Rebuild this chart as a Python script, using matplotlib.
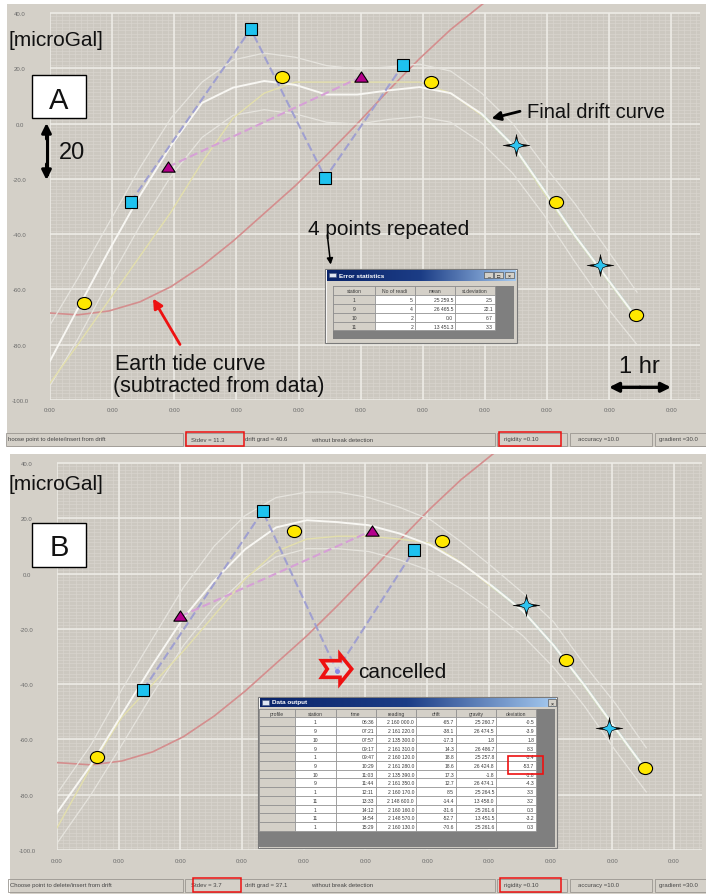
import numpy as np
import matplotlib
matplotlib.use("Agg")
import matplotlib.pyplot as plt
from matplotlib.path import Path
from matplotlib.patches import Rectangle, Polygon
from matplotlib.colors import LinearSegmentedColormap
from matplotlib.transforms import Affine2D

plt.rcParams['font.family'] = ['Liberation Sans', 'DejaVu Sans']

W, H = 706, 895

# ---------------------------------------------------------------- data
read_times = [6.6, 7.35, 7.95, 9.2833, 9.7833, 10.4833, 11.05, 11.7333,
              12.1833, 13.55, 14.2, 14.9, 15.4833]
read_clock = ["06:36", "07:21", "07:57", "09:17", "09:47", "10:29", "11:03",
              "11:44", "12:11", "13:33", "14:12", "14:54", "15:29"]
stations = [1, 9, 10, 9, 1, 9, 10, 9, 1, 11, 1, 11, 1]
readings = ["2 160 000.0", "2 161 220.0", "2 135 300.0", "2 161 310.0",
            "2 160 120.0", "2 161 280.0", "2 135 390.0", "2 161 350.0",
            "2 160 170.0", "2 148 600.0", "2 160 160.0", "2 148 570.0",
            "2 160 130.0"]

# solution A: every reading used
obs_a = [-64.9, -28.4, -15.7, 34.2, 16.8, -19.7, 16.8, 21.2, 15.0, -7.8,
         -28.4, -51.1, -69.3]

# solution B: the 10:29 reading at station 9 is cancelled
drift_b = [-65.7, -38.1, -17.3, 14.3, 18.8, 18.6, 17.3, 12.7, 8.5, -14.4,
           -31.6, -52.7, -70.6]
deviation_b = [-0.5, -3.9, 1.8, 8.3, -3.4, -53.7, -1.8, -4.3, 3.3, 3.2,
               0.3, -3.2, 0.3]
gravity_b = ["25 260.7", "26 474.5", "1.8", "26 486.7", "25 257.8",
             "26 424.8", "-1.8", "26 474.1", "25 264.5", "13 458.0",
             "25 261.6", "13 451.5", "25 261.6"]
cancelled_b = [False, False, False, False, False, True, False, False,
               False, False, False, False, False]
obs_b = [d + e for d, e in zip(drift_b, deviation_b)]

# drift curves and their bands, sampled every half hour
curve_t_a = [6.05, 6.5, 7.0, 7.5, 8.0, 8.5, 9.0, 9.5, 10.0, 10.5, 11.0,
             11.5, 12.0, 12.5, 13.0, 13.5, 14.0, 14.5, 15.0, 15.5]
drift_curve_a = [-86, -67, -46, -26, -8, 7.5, 13, 15.4, 14, 10.5, 10.5, 12,
                 13.2, 11, 3.5, -7.8, -24, -40.5, -55.5, -70.5]
upper_a = [-73, -56, -36, -16, 2, 15, 23, 25.5, 24, 21, 19.7, 20.5, 21.5,
           19, 11, 0, -15, -29, -45, -61]
lower_a = [-95, -78, -57, -37, -19, -5, 3, 5, 3.5, 0.5, -0.2, 1.5, 2.5,
           0.5, -7, -18, -33, -50, -66, -80]
station1_a = [-94, -80, -64, -48, -32, -14, 2, 11, 15, 15, 15, 15, 15, 11,
              3, -8, -25, -41, -56, -71]

curve_t_b = [5.95, 6.5, 7.0, 7.5, 8.0, 8.5, 9.0, 9.5, 10.0, 10.5, 11.0,
             11.5, 12.0, 12.5, 13.0, 13.5, 14.0, 14.5, 15.0, 15.5]
drift_curve_b = [-86.5, -69.2, -51.0, -33.0, -16.0, -2.5, 8.8, 16.7, 19.3,
                 18.6, 17.5, 14.5, 10.3, 3.8, -4.5, -13.5, -26, -40.5, -56,
                 -71.2]
upper_b = [-79.6, -62, -42, -23.5, -5, 10, 21, 27.5, 29.5, 29.5, 27.5, 24,
           19.5, 11.5, 2.5, -7, -17.5, -33, -47, -63]
lower_b = [-97.6, -80, -62, -43.5, -26, -12, -1.5, 6, 9, 9, 8, 5, 1, -5.5,
           -13.5, -22.5, -34, -48, -64, -79]
station1_b = [-92, -70, -52, -40, -28, -15, -2, 8, 12.5, 13.5, 13.5, 12.5,
              11, 4, -5, -13.5, -26, -41, -56.5, -71.5]

# earth tide correction
tide_t = [5.9, 6.5, 7.0, 7.5, 8.0, 8.5, 9.0, 9.5, 10.0, 10.5, 11.0, 11.5,
          12.0, 12.5, 13.0, 13.5]
tide_val = [-68.3, -69.2, -67.8, -64.5, -59, -51.5, -42.5, -32.5, -22.5,
            -11.5, 0, 12, 23.5, 34, 43, 51]

# error statistics of solution A
err_station = [1, 9, 10, 11]
err_count = [5, 4, 2, 2]
err_mean = ["25 259.5", "26 465.5", "0.0", "13 451.3"]
err_sd = [2.5, 22.1, 6.7, 3.3]

ytick_vals = [-100, -80, -60, -40, -20, 0, 20, 40]

status_a = {"stdev": "Stdev = 11.3", "grad": "drift grad = 40.6"}
status_b = {"stdev": "Stdev = 3.7", "grad": "drift grad = 37.1"}

# ---------------------------------------------------------------- style
SHOT_BG = '#d4d0c8'
PLOT_BG = '#ccc8c0'
MINOR = '#d9d6cf'
MAJOR = '#efede8'
TIDE_C = '#d48e8e'
DRIFT_C = '#f8f7f3'
BAND_C = '#e6e4de'
YEL_C = '#e3dfac'
ST9_C = '#a0a0d0'
ST10_C = '#d6a0d6'
CYAN_C = '#aee3df'
Y_TOP = 40 + 9 / 2.764


def frac(x0, y0, x1, y1):
    return [x0 / W, 1 - y1 / H, (x1 - x0) / W, (y1 - y0) / H]


def star_path(rx, ry, r_in):
    verts = [(rx, 0), (r_in, r_in), (0, ry), (-r_in, r_in), (-rx, 0),
             (-r_in, -r_in), (0, -ry), (r_in, -r_in), (rx, 0)]
    codes = [Path.MOVETO] + [Path.LINETO] * 7 + [Path.CLOSEPOLY]
    return Path(verts, codes)


STAR_OUT = star_path(1.0, 0.82, 0.14)
STAR_IN = star_path(1.0, 0.95, 0.3)
ELLIPSE = Path.unit_circle().transformed(Affine2D().scale(1.0, 0.85))
TRIANGLE = Path([(-0.6, -0.42), (0.6, -0.42), (0, 0.5), (-0.6, -0.42)],
                [Path.MOVETO, Path.LINETO, Path.LINETO, Path.CLOSEPOLY])

fig = plt.figure(figsize=(W / 100, H / 100), dpi=100, facecolor='white')

bg = fig.add_axes([0, 0, 1, 1], zorder=0)
bg.set_xlim(0, W)
bg.set_ylim(H, 0)
bg.axis('off')
bg.add_patch(Rectangle((7, 5), W - 7, 443, fc=SHOT_BG, ec='none'))
bg.add_patch(Rectangle((10, 455), W - 10, H - 455, fc=SHOT_BG, ec='none'))


def chart_axes(px, t0, t1, xpad):
    ax = fig.add_axes(frac(*px), zorder=2)
    ax.set_xlim(t0, t1)
    ax.set_ylim(-100, Y_TOP)
    ax.patch.set_visible(False)
    for s in ax.spines.values():
        s.set_visible(False)
    ax.axhspan(-100, 40, fc=PLOT_BG, ec='none', zorder=0)
    ax.hlines(np.arange(-100, 40.001, 1.25), t0, t1, colors=MINOR,
              lw=0.45, zorder=0.5)
    ax.vlines(t0 + np.arange(0.1, t1 - t0, 0.1), -100, 40, colors=MINOR,
              lw=0.45, zorder=0.5)
    hours = t0 + np.arange(0, 11)
    ax.hlines(ytick_vals, t0, t1, colors=MAJOR, lw=1.1, zorder=0.6)
    ax.vlines(hours, -100, 40, colors=MAJOR, lw=1.1, zorder=0.6)
    ax.set_xticks(hours)
    ax.set_xticklabels(["0:00"] * len(hours))
    ax.set_yticks(ytick_vals)
    ax.set_yticklabels([f"{v:.1f}" for v in ytick_vals])
    ax.tick_params(axis='x', length=0, labelsize=4.3, labelcolor='#6a6a6a',
                   pad=xpad)
    ax.tick_params(axis='y', length=0, labelsize=4.3, labelcolor='#6a6a6a',
                   pad=21.6)
    for lbl in ax.get_yticklabels():
        lbl.set_horizontalalignment('center')
    return ax


def draw_solution(ax, curve_t, drift_v, upper_v, lower_v, st1_v, obs,
                  cancelled):
    ax.plot(tide_t, tide_val, color=TIDE_C, lw=1.2, zorder=2)
    ax.plot(curve_t, upper_v, color=BAND_C, lw=0.9, zorder=2.1)
    ax.plot(curve_t, lower_v, color=BAND_C, lw=0.9, zorder=2.1)
    ax.plot(curve_t, st1_v, color=YEL_C, lw=1.0, zorder=2.2)
    late = [i for i, t in enumerate(curve_t) if t >= 13.0]
    ax.plot([curve_t[i] for i in late], [drift_v[i] for i in late],
            color=CYAN_C, lw=2.0, alpha=0.5, zorder=2.3)
    ax.plot(curve_t, drift_v, color=DRIFT_C, lw=1.4, zorder=2.5)

    for st, col in ((9, ST9_C), (10, ST10_C)):
        ts = [t for t, s in zip(read_times, stations) if s == st]
        vs = [v for v, s in zip(obs, stations) if s == st]
        ax.plot(ts, vs, color=col, lw=1.5, ls=(0, (4, 1.8)), zorder=3)

    def pick(st):
        sel = [i for i, s in enumerate(stations) if s == st and not cancelled[i]]
        return [read_times[i] for i in sel], [obs[i] for i in sel]

    t1, v1 = pick(1)
    ax.plot(t1, v1, ls='none', marker=ELLIPSE, ms=10.2, mfc='#ffe800',
            mec='black', mew=0.8, zorder=4)
    t9, v9 = pick(9)
    ax.plot(t9, v9, ls='none', marker='s', ms=9.3, mfc='#1ec2ef',
            mec='black', mew=0.8, zorder=4)
    t10, v10 = pick(10)
    ax.plot(t10, v10, ls='none', marker=TRIANGLE, ms=9.6, mfc='#b4008c',
            mec='black', mew=0.8, zorder=4)
    t11, v11 = pick(11)
    ax.plot(t11, v11, ls='none', marker=STAR_OUT, ms=19.5, mfc='black',
            mec='black', mew=0.3, zorder=4)
    ax.plot(t11, v11, ls='none', marker=STAR_IN, ms=11.0, mfc='#2ec4f0',
            mec='#0a0a0a', mew=0.4, zorder=4.1)
    tc = [read_times[i] for i in range(len(obs)) if cancelled[i]]
    vc = [obs[i] for i in range(len(obs)) if cancelled[i]]
    ax.plot(tc, vc, ls='none', marker='o', ms=2.6, mfc='#4a4ad8',
            mec='#4a4ad8', zorder=4)


ax_a = chart_axes((50, 5, 700, 401), 6.053, 6.053 + 650 / 62.14, 5.4)
draw_solution(ax_a, curve_t_a, drift_curve_a, upper_a, lower_a, station1_a,
              obs_a, [False] * len(obs_a))

ax_b = chart_axes((57, 455, 702, 851), 5.95, 5.95 + 645 / 61.7, 6.1)
draw_solution(ax_b, curve_t_b, drift_curve_b, upper_b, lower_b, station1_b,
              obs_b, cancelled_b)

# ---------------------------------------------------------------- overlay
ov = fig.add_axes([0, 0, 1, 1], zorder=5)
ov.set_xlim(0, W)
ov.set_ylim(H, 0)
ov.set_autoscale_on(False)
ov.axis('off')

TXT = dict(color='#111111', va='baseline', ha='left')


def arrow(p_from, p_to, style='-|>', color='black', lw=2.0, scale=14):
    ov.annotate('', xy=p_to, xytext=p_from,
                arrowprops=dict(arrowstyle=style, color=color, lw=lw,
                                mutation_scale=scale, shrinkA=0, shrinkB=0),
                zorder=8)


def label_box(x0, y0, x1, y1, letter, base):
    ov.add_patch(Rectangle((x0, y0), x1 - x0, y1 - y0, fc='white',
                           ec='black', lw=1.0, zorder=7))
    ov.text((x0 + x1) / 2, base, letter, fontsize=21, ha='center',
            va='baseline', color='#111111', zorder=8)


# panel A notes
ov.text(8, 46, "[microGal]", fontsize=15, zorder=8, **TXT)
label_box(32, 76, 86, 119, "A", 108.5)
arrow((46.5, 140), (46.5, 124), lw=2.2, scale=14)
arrow((46.5, 165), (46.5, 181), lw=2.2, scale=14)
ov.plot([46.5, 46.5], [130, 175], color='black', lw=2.2, zorder=8)
ov.text(59, 158.5, "20", fontsize=17, zorder=8, **TXT)
ov.text(527, 118, "Final drift curve", fontsize=14.5, zorder=8, **TXT)
arrow((520, 112.3), (491.5, 119.5), lw=2.0, scale=13)
ov.text(308, 235, "4 points repeated", fontsize=15, zorder=8, **TXT)
arrow((327.3, 236), (330.7, 265.5), lw=1.1, scale=9)
ov.text(115, 369.5, "Earth tide curve", fontsize=15.5, zorder=8, **TXT)
ov.text(113, 392, "(subtracted from data)", fontsize=15.5, zorder=8, **TXT)
arrow((180, 345.5), (153, 299.5), color='#ee1111', lw=2.0, scale=14)
ov.text(619, 373, "1 hr", fontsize=17, zorder=8, **TXT)
arrow((640, 388.3), (609, 388.3), lw=2.4, scale=14)
arrow((640, 388.3), (671, 388.3), lw=2.4, scale=14)

# panel B notes
ov.text(9, 490.5, "[microGal]", fontsize=15, zorder=8, **TXT)
label_box(32, 524, 86, 568, "B", 556.5)
block = [(321.7, 661.7), (340, 661.7), (340, 655.5), (351.7, 670),
         (340, 684.5), (340, 678.3), (321.7, 678.3), (327.3, 670)]
ov.add_patch(Polygon(block, closed=True, fc=(1, 1, 1, 0.35), ec='#ee1111',
                     lw=2.6, joinstyle='miter', zorder=8))
ov.text(358, 677.5, "cancelled", fontsize=15, zorder=8, **TXT)

# ---------------------------------------------------------------- windows
TITLE_MAP = LinearSegmentedColormap.from_list('title', ['#0a246a', '#1c3d86',
                                                         '#a6caf0'])


def window_frame(x0, y0, x1, y1, title_y1, title, buttons):
    ov.add_patch(Rectangle((x0, y0), x1 - x0, y1 - y0, fc=SHOT_BG,
                           ec='#7a7a7a', lw=0.8, zorder=6))
    ov.plot([x0 + 1, x1 - 1], [y0 + 1, y0 + 1], color='white', lw=0.6, zorder=6.1)
    ov.plot([x0 + 1, x0 + 1], [y0 + 1, y1 - 1], color='white', lw=0.6, zorder=6.1)
    ov.imshow(np.linspace(0, 1, 128)[None, :], cmap=TITLE_MAP,
              extent=(x0 + 1.5, x1 - 1.5, title_y1, y0 + 1.5), aspect='auto',
              interpolation='bilinear', zorder=6.2)
    ov.add_patch(Rectangle((x0 + 4, y0 + 3.5), 7, 4.5, fc='#dfe6f2',
                           ec='#4a5a80', lw=0.4, zorder=6.3))
    ov.text(x0 + 14, (y0 + title_y1) / 2 + 0.3, title, fontsize=4.6,
            color='white', fontweight='bold', va='center', ha='left',
            zorder=6.3)
    for bx, glyph in buttons:
        ov.add_patch(Rectangle((bx, y0 + 2.8), 8.5, 6.5, fc=SHOT_BG,
                               ec='#404040', lw=0.4, zorder=6.3))
        ov.text(bx + 4.25, y0 + 6.3, glyph, fontsize=3.8, color='black',
                ha='center', va='center', zorder=6.4)


def grid_table(xs, ys, header, rows, aligns, grey_cols):
    nrow = len(ys) - 1
    for r in range(nrow):
        for c in range(len(xs) - 1):
            grey = r == 0 or c in grey_cols
            ov.add_patch(Rectangle((xs[c], ys[r]), xs[c + 1] - xs[c],
                                   ys[r + 1] - ys[r],
                                   fc=SHOT_BG if grey else 'white',
                                   ec='#8a8a8a', lw=0.45, zorder=6.5))
    for c, name in enumerate(header):
        ov.text((xs[c] + xs[c + 1]) / 2, (ys[0] + ys[1]) / 2 + 0.3, name,
                fontsize=3.6, color='#3a3a3a', ha='center', va='center',
                zorder=6.6)
    for r, row in enumerate(rows):
        yc = (ys[r + 1] + ys[r + 2]) / 2 + 0.3
        for c, val in enumerate(row):
            if val == "":
                continue
            if aligns[c] == 'center':
                x = (xs[c] + xs[c + 1]) / 2
            else:
                x = xs[c + 1] - 2
            ov.text(x, yc, val, fontsize=3.6, color='#3a3a3a',
                    ha=aligns[c], va='center', zorder=6.6)


# error statistics window (panel A)
window_frame(325, 270, 517, 344, 282, "Error statistics",
             [(484, '_'), (494, '□'), (505, '×')])
ov.add_patch(Rectangle((333, 287), 181, 53, fc='#7f7f7f', ec='none',
                       zorder=6.4))
err_rows = [[str(s), str(n), m, f"{d:.1f}"]
            for s, n, m, d in zip(err_station, err_count, err_mean, err_sd)]
grid_table([333.3, 375, 415, 455, 495],
           [287.3, 296, 305, 314, 322.7, 330.7],
           ["station", "No of readi", "mean", "st.deviation"], err_rows,
           ['center', 'right', 'right', 'right'], grey_cols={0})

# data output window (panel B)
window_frame(258, 697.5, 557, 849, 707.5, "Data output", [(547.5, '×')])
ov.add_patch(Rectangle((259, 709.5), 296, 138, fc='#7f7f7f', ec='none',
                       zorder=6.4))
col_x = [259, 295, 335.7, 376, 416, 456, 496, 536]
row_y = [709.8] + [718.3 + 8.72 * k for k in range(14)]
data_rows = [["", str(s), tc, rd, f"{d:.1f}", g, f"{e:.1f}"]
             for s, tc, rd, d, g, e in zip(stations, read_clock, readings,
                                          drift_b, gravity_b, deviation_b)]
grid_table(col_x, row_y,
           ["profile", "station", "time", "reading", "drift", "gravity",
            "deviation"], data_rows,
           ['center', 'center', 'right', 'right', 'right', 'right', 'right'],
           grey_cols={0})
ov.add_patch(Rectangle((508.3, 756.7), 35, 18.3, fc='none', ec='#ee1111',
                       lw=1.2, zorder=7))

# ---------------------------------------------------------------- status bars


def status_bar(yc, first, info, x_first):
    top, bot = yc - 6.5, yc + 6.5
    cells = [(x_first - 2, 183), (185, 495), (497, 567), (570, 652),
             (655, W + 2)]
    for a, b in cells:
        ov.add_patch(Rectangle((a, top), b - a, bot - top, fc='none',
                               ec='#9a9690', lw=0.6, zorder=6))
    st = dict(fontsize=4.3, color='#454545', va='center', ha='left', zorder=6.5)
    ov.text(x_first, yc, first, **st)
    ov.text(191, yc, info["stdev"], **st)
    ov.text(245, yc, info["grad"], **st)
    ov.text(311, yc, "without break detection", **st)
    ov.text(504, yc, "rigidity =0.10", **st)
    ov.text(578, yc, "accuracy =10.0", **st)
    ov.text(659, yc, "gradient =30.0", **st)


status_bar(440, "hoose point to delete/insert from drift", status_a, 8)
status_bar(886, "Choose point to delete/insert from drift", status_b, 10)
for (x0, y0, x1, y1) in [(186, 433, 244, 447), (499, 433, 561, 447),
                         (193, 879, 241, 893), (500, 879, 561, 893)]:
    ov.add_patch(Rectangle((x0, y0), x1 - x0, y1 - y0, fc='none',
                           ec='#ee1111', lw=1.1, zorder=7))

ov.set_xlim(0, W)
ov.set_ylim(H, 0)

fig.savefig("out.png", dpi=100, facecolor='white')
